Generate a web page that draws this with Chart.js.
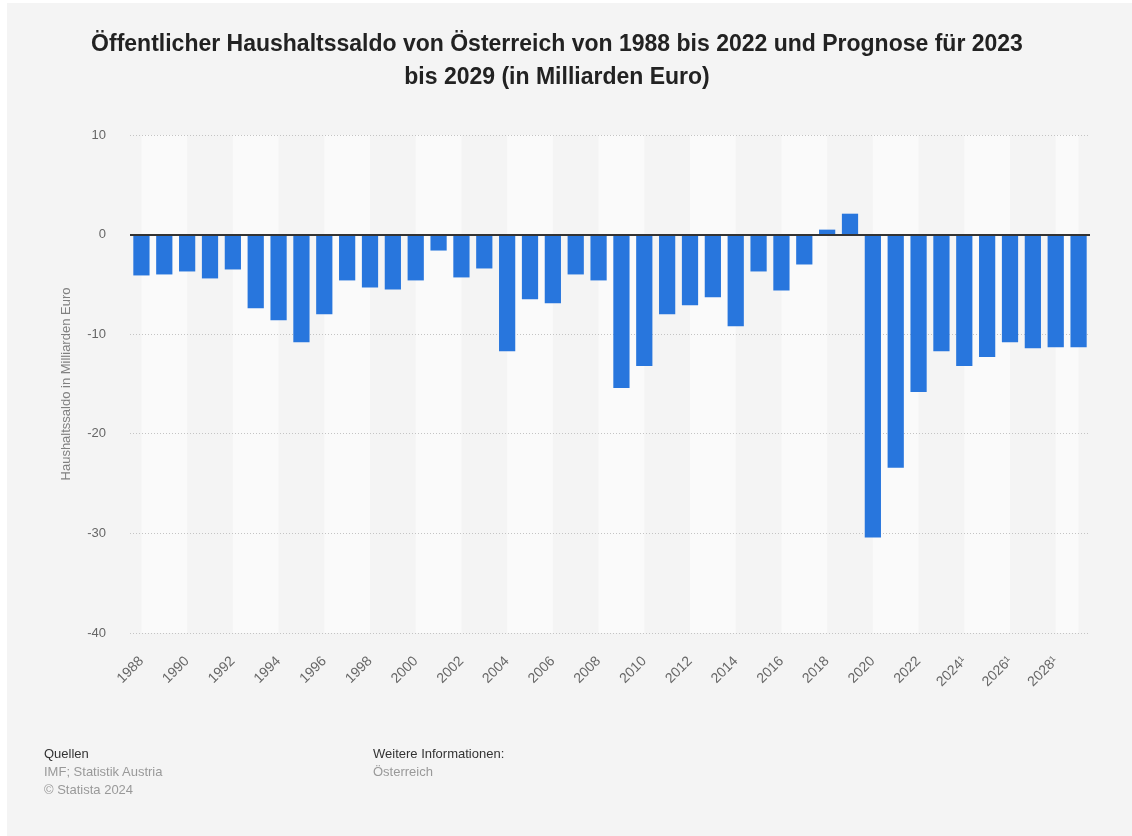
<!DOCTYPE html>
<html lang="de">
<head>
<meta charset="utf-8">
<title>Öffentlicher Haushaltssaldo von Österreich</title>
<script src="https://cdn.jsdelivr.net/npm/chart.js@4/dist/chart.umd.min.js"></script>
<style>
  html, body { margin: 0; padding: 0; background: #ffffff; }
  #card {
    position: absolute; left: 7px; top: 3px; width: 1125px; height: 833px;
    background: #f4f4f4;
  }
  #chart { position: absolute; left: 0; top: 0; }
  .foot {
    position: absolute; top: 745px;
    font-family: "Liberation Sans", Arial, sans-serif; font-size: 13px; line-height: 18px;
    color: #999;
  }
  .foot b { font-weight: normal; color: #333; }
</style>
</head>
<body>
<div id="card"></div>
<canvas id="chart" width="1132" height="836"></canvas>
<div class="foot" style="left:44px"><b>Quellen</b><br>IMF; Statistik Austria<br>© Statista 2024</div>
<div class="foot" style="left:373px"><b>Weitere Informationen:</b><br>Österreich</div>
<script>
const years = [
  "1988", "1989", "1990", "1991", "1992", "1993", "1994", "1995", "1996", "1997",
  "1998", "1999", "2000", "2001", "2002", "2003", "2004", "2005", "2006", "2007",
  "2008", "2009", "2010", "2011", "2012", "2013", "2014", "2015", "2016", "2017",
  "2018", "2019", "2020", "2021", "2022", "2023¹", "2024¹", "2025¹", "2026¹", "2027¹",
  "2028¹", "2029¹"
];
const saldo = [
  -4.1, -4.0, -3.7, -4.4, -3.5, -7.4, -8.6, -10.8, -8.0, -4.6,
  -5.3, -5.5, -4.6, -1.6, -4.3, -3.4, -11.7, -6.5, -6.9, -4.0,
  -4.6, -15.4, -13.2, -8.0, -7.1, -6.3, -9.2, -3.7, -5.6, -3.0,
  0.5, 2.1, -30.4, -23.4, -15.8, -11.7, -13.2, -12.3, -10.8, -11.4,
  -11.3, -11.3
];
const yTicks = [10, 0, -10, -20, -30, -40];

const FONT = '"Liberation Sans", Arial, sans-serif';

// helle und dunkle Streifen hinter den Balken, je zwei Jahre
const stripes = {
  id: "stripes",
  beforeDraw(chart) {
    const { ctx, chartArea, scales } = chart;
    const last = years.length - 1;
    ctx.save();
    ctx.fillStyle = "#fafafa";
    for (let i = 0; i < last; i += 4) {
      const x0 = scales.x.getPixelForValue(i);
      const x1 = scales.x.getPixelForValue(Math.min(i + 2, last));
      ctx.fillRect(x0, chartArea.top, x1 - x0, chartArea.bottom - chartArea.top);
    }
    ctx.restore();
  },
  afterDatasetsDraw(chart) {
    const { ctx, chartArea, scales } = chart;
    const y = Math.round(scales.y.getPixelForValue(0));
    ctx.save();
    ctx.strokeStyle = "#333333";
    ctx.lineWidth = 2;
    ctx.beginPath();
    ctx.moveTo(chartArea.left, y);
    ctx.lineTo(chartArea.right, y);
    ctx.stroke();
    ctx.restore();
  },
};

new Chart(document.querySelector("#chart"), {
  type: "bar",
  data: {
    labels: years,
    datasets: [
      {
        label: "Haushaltssaldo",
        data: saldo,
        backgroundColor: "#2876dd",
        barPercentage: 0.71,
        categoryPercentage: 1,
      },
    ],
  },
  options: {
    responsive: false,
    animation: false,
    layout: { padding: { top: 3, right: 42, bottom: 0, left: 24 } },
    plugins: {
      legend: { display: false },
      tooltip: { enabled: false },
      title: {
        display: true,
        text: [
          "Öffentlicher Haushaltssaldo von Österreich von 1988 bis 2022 und Prognose für 2023",
          "bis 2029 (in Milliarden Euro)",
        ],
        color: "#222222",
        font: { family: FONT, size: 23, weight: "bold", lineHeight: 1.435 },
        padding: { top: 25, bottom: 41 },
      },
    },
    scales: {
      x: {
        grid: { display: false, drawTicks: false },
        border: { display: false },
        ticks: {
          color: "#666666",
          font: { family: FONT, size: 14 },
          autoSkip: false,
          minRotation: 45,
          maxRotation: 45,
          padding: 20,
          callback: (value, index) => (index % 2 === 0 ? years[index] : ""),
        },
        afterFit: (scale) => {
          scale.height = 203;
        },
      },
      y: {
        min: -40,
        max: 10,
        afterBuildTicks: (scale) => {
          scale.ticks = yTicks.map((v) => ({ value: v }));
        },
        grid: {
          drawTicks: false,
          color: (c) => (c.tick && c.tick.value === 0 ? "rgba(0,0,0,0)" : "#c4c4c4"),
          lineWidth: 1,
        },
        border: { display: false, dash: [1, 2] },
        ticks: {
          color: "#666666",
          font: { family: FONT, size: 13 },
          padding: 24,
        },
        title: {
          display: true,
          text: "Haushaltssaldo in Milliarden Euro",
          color: "#808080",
          font: { family: FONT, size: 13 },
          padding: { top: 35, bottom: 0 },
        },
        afterFit: (scale) => {
          scale.width = 106;
        },
      },
    },
  },
  plugins: [stripes],
});
</script>
</body>
</html>
